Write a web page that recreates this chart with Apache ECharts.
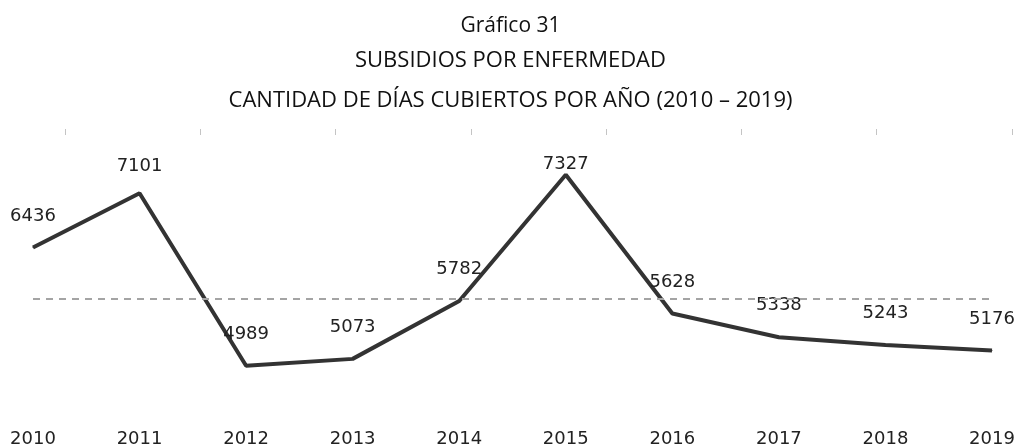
<!DOCTYPE html>
<html>
<head>
<meta charset="utf-8">
<script src="https://cdn.jsdelivr.net/npm/echarts@6/dist/echarts.min.js"></script>
<style>
  html, body { margin: 0; padding: 0; background: #fff; }
  #chart { width: 1021px; height: 448px; }
</style>
</head>
<body>
<div id="chart"></div>
<script>
// 年份
const years = ["2010", "2011", "2012", "2013", "2014", "2015", "2016", "2017", "2018", "2019"];
// 每年覆盖天数
const dias = [6436, 7101, 4989, 5073, 5782, 7327, 5628, 5338, 5243, 5176];
// 标题
const titleLines = [
  "Gráfico 31",
  "SUBSIDIOS POR ENFERMEDAD",
  "CANTIDAD DE DÍAS CUBIERTOS POR AÑO (2010 – 2019)"
];

// 个别标签距离
const labelNudge = { 1: 17, 5: 1 };

const chart = echarts.init(document.getElementById("chart"));

const titleFont = "'Open Sans', sans-serif";
const titleTops = [11, 45, 85];
const titleSizes = [21, 22, 22];
const numFont = "'DejaVu Sans', sans-serif";

const option = {
  backgroundColor: "#fff",
  animation: false,
  title: titleLines.map((t, i) => ({
    text: t,
    left: "center",
    top: titleTops[i],
    textStyle: {
      fontFamily: titleFont,
      fontSize: titleSizes[i],
      fontWeight: "normal",
      color: "#111"
    }
  })),
  grid: [
    { left: 33, right: 29, top: 128, height: 294 },
    // 顶部刻度
    { left: 65, right: 9, top: 129, height: 0 }
  ],
  xAxis: [
    {
      type: "category",
      gridIndex: 0,
      boundaryGap: false,
      data: years,
      axisLine: { show: false },
      axisTick: { show: false },
      axisLabel: {
        margin: 8,
        fontFamily: numFont,
        fontSize: 18,
        color: "#222"
      }
    },
    {
      type: "value",
      gridIndex: 1,
      position: "top",
      min: 0,
      max: 7,
      interval: 1,
      axisLine: { show: false },
      axisTick: {
        show: true,
        inside: true,
        length: 6,
        lineStyle: { color: "#c4c4c4", width: 1 }
      },
      axisLabel: { show: false },
      splitLine: { show: false }
    }
  ],
  yAxis: [
    {
      type: "value",
      gridIndex: 0,
      min: 4300,
      max: 7900,
      show: false,
      splitLine: { show: false }
    },
    {
      type: "value",
      gridIndex: 1,
      show: false
    }
  ],
  series: [
    {
      type: "line",
      xAxisIndex: 0,
      yAxisIndex: 0,
      data: dias.map((v, i) =>
        labelNudge[i] !== undefined
          ? { value: v, label: { distance: labelNudge[i] } }
          : v
      ),
      symbol: "circle",
      symbolSize: 1,
      showSymbol: true,
      itemStyle: { color: "#333" },
      lineStyle: { color: "#333", width: 4 },
      label: {
        show: true,
        position: "top",
        distance: 22,
        fontFamily: numFont,
        fontSize: 18,
        color: "#222"
      },
      markLine: {
        silent: true,
        symbol: "none",
        label: { show: false },
        lineStyle: { color: "#a4a4a4", width: 2, type: [7, 6] },
        data: [{ type: "average" }]
      }
    }
  ]
};

chart.setOption(option);
</script>
</body>
</html>
